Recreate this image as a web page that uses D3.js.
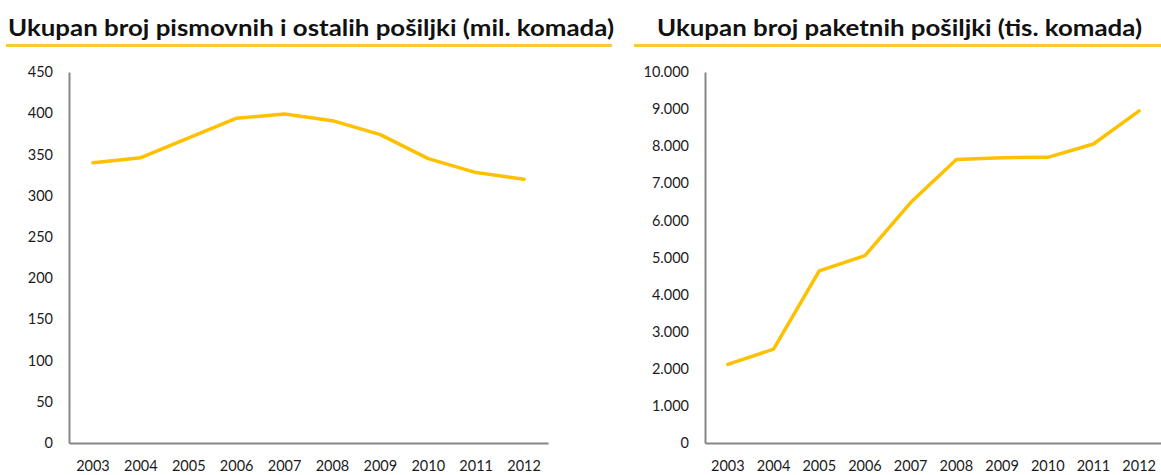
<!DOCTYPE html>
<html><head><meta charset="utf-8">
<script src="https://cdn.jsdelivr.net/npm/d3@7"></script>
<style>
html,body{margin:0;padding:0;background:#fff;}
svg{display:block;}
</style></head>
<body>
<svg id="c" width="1161" height="475"></svg>
<script>
const years = ["2003","2004","2005","2006","2007","2008","2009","2010","2011","2012"];
const letters = [340, 346, 370, 394, 399, 391, 374, 345, 328, 320];
const parcels = [2120, 2530, 4640, 5050, 6480, 7640, 7690, 7700, 8060, 8950];
const leftTicks = [0, 50, 100, 150, 200, 250, 300, 350, 400, 450];
const rightTicks = [0, 1000, 2000, 3000, 4000, 5000, 6000, 7000, 8000, 9000, 10000];
const leftTitle = "Ukupan broj pismovnih i ostalih pošiljki (mil. komada)";
const rightTitle = "Ukupan broj paketnih pošiljki (tis. komada)";

const svg = d3.select("#c");
const hr = d3.formatLocale({decimal: ",", thousands: ".", grouping: [3], currency: ["", ""]});
const fmtDot = hr.format(",");

function panel(cfg) {
  const g = svg.append("g");
  // title
  g.append("text")
    .attr("x", cfg.titleX).attr("y", 36)
    .attr("font-family", "Lato, 'Open Sans', sans-serif")
    .attr("font-weight", "bold")
    .attr("font-size", 23)
    .attr("fill", "#111")
    .attr("textLength", cfg.titleW)
    .attr("lengthAdjust", "spacingAndGlyphs")
    .text(cfg.title);
  g.append("line")
    .attr("x1", cfg.ulX1).attr("x2", cfg.ulX2)
    .attr("y1", 45.5).attr("y2", 45.5)
    .attr("stroke", "#FCC73A").attr("stroke-width", 3);

  const x = d3.scaleBand().domain(years).range([cfg.x0, cfg.x1]).padding(0);
  const y = d3.scaleLinear().domain([0, cfg.max]).range([443, 72]);

  const yAxis = d3.axisLeft(y).tickValues(cfg.ticks).tickSize(0).tickPadding(16)
    .tickFormat(cfg.fmt);
  const ya = g.append("g").attr("transform", `translate(${cfg.x0},0)`).call(yAxis);
  const xAxis = d3.axisBottom(x).tickSize(0).tickPadding(18);
  const xa = g.append("g").attr("transform", `translate(0,443)`).call(xAxis);

  [ya, xa].forEach(a => {
    a.select(".domain").attr("stroke", "#868686").attr("stroke-width", 2);
    a.selectAll("text")
      .attr("font-family", "Lato, 'Open Sans', sans-serif")
      .attr("font-size", 14.5)
      .attr("fill", "#1b1b1b");
  });

  const line = d3.line()
    .x((d, i) => x(years[i]) + x.bandwidth() / 2)
    .y(d => y(d));
  g.append("path")
    .datum(cfg.data)
    .attr("d", line)
    .attr("fill", "none")
    .attr("stroke", "#FFC000")
    .attr("stroke-width", 3.5)
    .attr("stroke-linejoin", "round")
    .attr("stroke-linecap", "round");
}

panel({title: leftTitle, titleX: 8, titleW: 606, ulX1: 6, ulX2: 612,
  x0: 69, x1: 548, max: 450, ticks: leftTicks, fmt: d3.format("d"), data: letters});
panel({title: rightTitle, titleX: 657, titleW: 485, ulX1: 634, ulX2: 1161,
  x0: 705, x1: 1162, max: 10000, ticks: rightTicks, fmt: fmtDot, data: parcels});
</script>
</body></html>
